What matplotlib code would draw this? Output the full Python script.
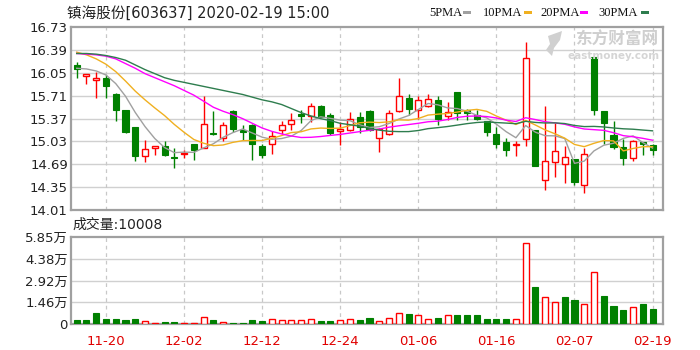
import numpy as np
import pandas as pd
import matplotlib
matplotlib.use('Agg')
import matplotlib.pyplot as plt
from matplotlib.patches import Rectangle, Polygon

plt.rcParams['font.family'] = ['DejaVu Sans', 'Noto Sans CJK SC']

# ── data ─────────────────────────────────────────────────────────────────────
date_labels = ['11-20', '12-02', '12-12', '12-24', '01-06', '01-16', '02-07', '02-19']
date_pos = [3, 11, 19, 27, 35, 43, 51, 59]

opens = [16.17, 16.01, 15.94, 15.98, 15.74, 15.50, 15.24, 14.82, 14.93, 14.97,
         14.80, 14.84, 14.99, 14.93, 15.15, 15.08, 15.48, 15.20, 15.28, 14.97,
         14.99, 15.20, 15.29, 15.44, 15.41, 15.56, 15.43, 15.18, 15.20, 15.40,
         15.48, 15.08, 15.14, 15.48, 15.67, 15.50, 15.56, 15.65, 15.41, 15.76,
         15.50, 15.42, 15.33, 15.14, 15.02, 14.98, 15.07, 15.20, 14.46, 14.73,
         14.70, 14.77, 14.38, 16.29, 15.48, 15.12, 14.95, 14.78, 15.02, 14.98]
highs = [16.21, 16.03, 16.07, 16.02, 15.75, 15.50, 15.24, 15.05, 14.96, 15.03,
         14.93, 14.90, 14.99, 15.71, 15.48, 15.32, 15.50, 15.27, 15.29, 14.99,
         15.18, 15.33, 15.45, 15.50, 15.60, 15.57, 15.46, 15.32, 15.47, 15.47,
         15.50, 15.23, 15.50, 15.98, 15.74, 15.70, 15.74, 15.70, 15.62, 15.77,
         15.52, 15.50, 15.34, 15.25, 15.08, 15.03, 16.51, 15.20, 15.56, 15.31,
         14.97, 14.77, 14.94, 16.29, 15.48, 15.34, 15.07, 15.05, 15.02, 15.00]
lows = [15.98, 15.89, 15.67, 15.68, 15.34, 15.15, 14.74, 14.72, 14.83, 14.82,
        14.64, 14.78, 14.75, 14.93, 15.13, 15.03, 15.17, 15.05, 14.75, 14.79,
        14.84, 15.14, 15.20, 15.31, 15.32, 15.39, 15.12, 14.98, 15.18, 15.15,
        15.18, 14.88, 15.12, 15.47, 15.43, 15.37, 15.55, 15.28, 15.35, 15.35,
        15.35, 15.35, 15.11, 14.93, 14.82, 14.82, 14.97, 14.66, 14.31, 14.50,
        14.41, 14.38, 14.26, 15.43, 15.00, 14.92, 14.68, 14.74, 14.83, 14.83]
closes = [16.11, 16.03, 15.97, 15.85, 15.50, 15.17, 14.82, 14.92, 14.96, 14.83,
          14.79, 14.86, 14.90, 15.29, 15.14, 15.27, 15.21, 15.17, 14.99, 14.83,
          15.11, 15.27, 15.35, 15.41, 15.56, 15.40, 15.15, 15.22, 15.37, 15.25,
          15.20, 15.21, 15.46, 15.70, 15.51, 15.65, 15.66, 15.36, 15.47, 15.46,
          15.45, 15.36, 15.17, 15.00, 14.90, 15.00, 16.27, 14.67, 14.74, 14.89,
          14.80, 14.42, 14.84, 15.50, 15.31, 14.95, 14.78, 15.03, 15.00, 14.90]
volumes = [2700, 2700, 7200, 3600, 3600, 2700, 3600, 1800, 900, 1100,
           1100, 900, 900, 4900, 2700, 1600, 900, 900, 2700, 1800,
           3400, 2700, 2700, 2700, 3400, 1800, 1800, 2500, 3400, 2700,
           4300, 2200, 4300, 7600, 7000, 6100, 3400, 4300, 6100, 6100,
           6100, 6100, 3400, 3400, 3400, 3400, 54900, 25000, 18000, 14600,
           18200, 16400, 13700, 34900, 18900, 12100, 9400, 11300, 13700, 10008]
prev_close = 16.20  # close of the day before the first bar

# moving-average values where the window reaches before the first bar
ma5_head = [16.12, 16.11, 16.08, 16.02]
ma10_head = [16.36, 16.32, 16.26, 16.18, 16.07, 15.93, 15.78, 15.65, 15.53]
ma20_head = [16.34, 16.33, 16.32, 16.30, 16.26, 16.19, 16.12, 16.04, 15.98, 15.92,
             15.86, 15.79, 15.72, 15.63, 15.54, 15.48, 15.43, 15.37, 15.30]
ma30_head = [16.34, 16.34, 16.33, 16.31, 16.28, 16.24, 16.17, 16.10, 16.04, 15.98,
             15.94, 15.91, 15.88, 15.85, 15.82, 15.79, 15.76, 15.73, 15.69, 15.65,
             15.62, 15.58, 15.52, 15.46, 15.41, 15.37, 15.34, 15.30, 15.28]

price_ticks = [14.01, 14.35, 14.69, 15.03, 15.37, 15.71, 16.05, 16.39, 16.73]
vol_ticks = [0, 14625, 29250, 43875, 58500]
vol_labels = ['0', '1.46万', '2.92万', '4.38万', '5.85万']

RED = '#ff0000'
GREEN = '#008000'
MA_COLORS = {'5PMA': '#a0a0a0', '10PMA': '#f0b020', '20PMA': '#ff00ff', '30PMA': '#2e7d4e'}
GRID = '#d0d0d0'
SPINE = '#a0a0a0'

o = np.array(opens); h = np.array(highs); l = np.array(lows); c = np.array(closes)
x = np.arange(len(c))
s = pd.Series(closes)


def moving_avg(n, head):
    m = s.rolling(n).mean()
    m.iloc[:n - 1] = head
    return m.values


mas = {'5PMA': moving_avg(5, ma5_head), '10PMA': moving_avg(10, ma10_head),
       '20PMA': moving_avg(20, ma20_head), '30PMA': moving_avg(30, ma30_head)}

W, H = 700, 350
fig = plt.figure(figsize=(7, 3.5), dpi=100)
fig.patch.set_facecolor('white')


def fx(px):
    return px / W


def fy(py):
    return 1 - py / H


ax = fig.add_axes([fx(70.7), fy(210), fx(663 - 70.7), (210 - 27.3) / H])
axv = fig.add_axes([fx(70.7), fy(324), fx(663 - 70.7), (324 - 237.3) / H])

xlim = (-0.615, 60.07)

# ── price panel ──────────────────────────────────────────────────────────────
up = c >= o
body_lo = np.minimum(o, c)
body_h = np.maximum(np.abs(c - o), 0.012)
ax.vlines(x, l, h, colors=np.where(up, RED, GREEN), lw=1, zorder=2)
ax.bar(x[up], body_h[up], bottom=body_lo[up], width=0.62, facecolor='white',
       edgecolor=RED, lw=1, zorder=3)
ax.bar(x[~up], body_h[~up], bottom=body_lo[~up], width=0.62, facecolor=GREEN,
       edgecolor=GREEN, lw=0.8, zorder=3)
for name, vals in mas.items():
    ax.plot(x, vals, color=MA_COLORS[name], lw=1, zorder=4)

ax.set_xlim(*xlim)
ax.set_ylim(14.01, 16.73)
ax.set_yticks(price_ticks)
ax.set_yticklabels([f'{t:.2f}' for t in price_ticks])
ax.set_xticks([])
for t in price_ticks[1:-1]:
    ax.axhline(t, color=GRID, lw=1, zorder=0)
for p in date_pos:
    ax.axvline(p, color='#c8c8c8', lw=0.9, ls=(0, (3, 3)), zorder=0)

# ── volume panel ─────────────────────────────────────────────────────────────
prev = np.r_[prev_close, c[:-1]]
vup = c >= prev
v = np.array(volumes)
axv.bar(x[vup], v[vup], width=0.62, facecolor='white', edgecolor=RED, lw=1, zorder=3)
axv.bar(x[~vup], v[~vup], width=0.62, facecolor=GREEN, edgecolor=GREEN, lw=0.8, zorder=3)
axv.set_xlim(*xlim)
axv.set_ylim(0, 58500)
axv.set_yticks(vol_ticks)
axv.set_yticklabels(vol_labels)
axv.set_xticks(date_pos)
axv.set_xticklabels(date_labels, color='#e00000')
for t in vol_ticks[1:-1]:
    axv.axhline(t, color=GRID, lw=1, zorder=0)
for p in date_pos:
    axv.axvline(p, color='#c8c8c8', lw=0.9, ls=(0, (3, 3)), zorder=0)

for a in (ax, axv):
    a.set_facecolor('white')
    for sp in a.spines.values():
        sp.set_color(SPINE)
        sp.set_linewidth(1.6)
    a.tick_params(length=0, labelsize=9.5, colors='#222222', pad=2)
axv.tick_params(axis='x', pad=8, labelcolor='#e00000')

# ── texts ────────────────────────────────────────────────────────────────────
fig.text(fx(67), fy(13), '镇海股份[603637] 2020-02-19 15:00', fontsize=10.5,
         ha='left', va='center', color='#222222')
fig.text(fx(72), fy(225), '成交量:10008', fontsize=10, ha='left', va='center',
         color='#222222')

legend_x = {'5PMA': 429, '10PMA': 483, '20PMA': 540, '30PMA': 598}
dash_x = {'5PMA': 463, '10PMA': 524, '20PMA': 580, '30PMA': 641}
for name, col in MA_COLORS.items():
    fig.text(fx(legend_x[name]), fy(12.5), name, fontsize=9, family='Liberation Serif',
             ha='left', va='center', color='#111111')
    fig.patches.append(Rectangle((fx(dash_x[name]), fy(14)), 8 / W, 3 / H,
                                 transform=fig.transFigure, facecolor=col,
                                 edgecolor='none'))

# watermark
fig.text(fx(617), fy(40), '东方财富网', fontsize=12, weight='bold', ha='center',
         va='center', color='#cfcfcf', family=['Noto Sans CJK SC'])
fig.text(fx(614), fy(56), 'eastmoney.com', fontsize=7.5, weight='bold', ha='center',
         va='center', color='#d5d5d5')
icon = [(548, 36), (562, 31), (560, 40), (554, 48), (552, 56), (546, 50), (550, 44)]
fig.patches.append(Polygon([(fx(a), fy(b)) for a, b in icon], closed=True,
                           transform=fig.transFigure, facecolor='#d0d0d0',
                           edgecolor='none'))

fig.savefig('out.png', dpi=100, facecolor='white')
